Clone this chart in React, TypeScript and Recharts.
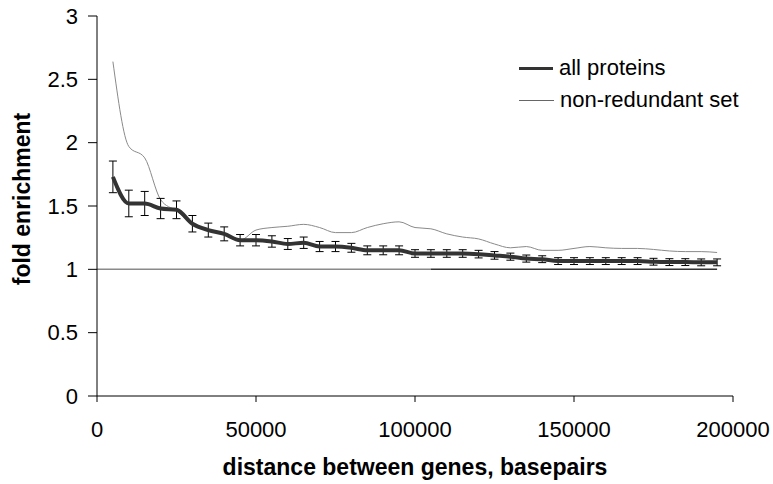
import React from 'react';
import { LineChart, Line, XAxis, YAxis, ErrorBar, ReferenceLine, Legend, Label } from 'recharts';

const distance = [
  5000, 10000, 15000, 20000, 25000, 30000, 35000, 40000, 45000, 50000,
  55000, 60000, 65000, 70000, 75000, 80000, 85000, 90000, 95000, 100000,
  105000, 110000, 115000, 120000, 125000, 130000, 135000, 140000, 145000, 150000,
  155000, 160000, 165000, 170000, 175000, 180000, 185000, 190000, 195000,
];

const allProteins = [
  1.73, 1.52, 1.52, 1.48, 1.47, 1.36, 1.31, 1.28, 1.23, 1.23,
  1.22, 1.2, 1.21, 1.18, 1.18, 1.17, 1.15, 1.15, 1.15, 1.125,
  1.125, 1.125, 1.125, 1.12, 1.11, 1.1, 1.085, 1.08, 1.065, 1.065,
  1.065, 1.065, 1.065, 1.065, 1.06, 1.057, 1.057, 1.055, 1.055,
];

const allProteinsErr = [
  0.125, 0.105, 0.095, 0.08, 0.07, 0.065, 0.055, 0.055, 0.045, 0.045,
  0.045, 0.043, 0.045, 0.04, 0.04, 0.035, 0.035, 0.035, 0.035, 0.03,
  0.03, 0.03, 0.03, 0.03, 0.03, 0.028, 0.028, 0.027, 0.027, 0.027,
  0.027, 0.027, 0.027, 0.027, 0.027, 0.027, 0.027, 0.027, 0.027,
];

const nonRedundant = [
  2.64, 1.97, 1.88, 1.55, 1.46, 1.36, 1.31, 1.28, 1.23, 1.31,
  1.33, 1.34, 1.355, 1.33, 1.29, 1.29, 1.33, 1.36, 1.375, 1.33,
  1.32, 1.28, 1.255, 1.24, 1.2, 1.17, 1.18, 1.15, 1.15, 1.165,
  1.18, 1.17, 1.165, 1.165, 1.157, 1.145, 1.14, 1.14, 1.133,
];

const xTicks = [0, 50000, 100000, 150000, 200000];
const yTicks = [0, 0.5, 1, 1.5, 2, 2.5, 3];

// baseline at fold enrichment 1, drawn in two shades like the original
const baselineLevel = 1;
const baselineGrey = [0, 105000];
const baselineDark = [105000, 195000];

const data = distance.map((d, i) => ({
  distance: d,
  all: allProteins[i],
  err: allProteinsErr[i],
  nonRed: nonRedundant[i],
}));

const FONT = '"Liberation Sans", Arial, sans-serif';

const ChartLegend = () => (
  <div style={{ fontFamily: FONT, fontSize: 22, color: '#000', lineHeight: '26px' }}>
    <div style={{ display: 'flex', alignItems: 'center', height: 26, marginBottom: 6 }}>
      <span style={{ display: 'inline-block', width: 34, height: 3, background: '#333', marginRight: 6 }} />
      <span>all proteins</span>
    </div>
    <div style={{ display: 'flex', alignItems: 'center', height: 26 }}>
      <span style={{ display: 'inline-block', width: 35, height: 1, background: '#666', marginRight: 6 }} />
      <span>non-redundant set</span>
    </div>
  </div>
);

const YTitle = ({ viewBox }: any) => {
  const x = 30;
  const y = viewBox.y + viewBox.height / 2 - 7;
  return (
    <text
      x={x}
      y={y}
      transform={`rotate(-90, ${x}, ${y})`}
      textAnchor="middle"
      fontFamily={FONT}
      fontSize={23}
      fontWeight="bold"
      fill="#000"
    >
      fold enrichment
    </text>
  );
};

export default function App() {
  const tickStyle = { fontFamily: FONT, fontSize: 22, fill: '#000' };
  return (
    <div style={{ position: 'absolute', top: 0, left: 0, width: 773, height: 484 }}>
      <LineChart width={773} height={484} data={data} margin={{ top: 16, right: 40, bottom: 9, left: 0 }}>
        <XAxis
          dataKey="distance"
          type="number"
          domain={[0, 200000]}
          ticks={xTicks}
          tick={tickStyle}
          tickSize={6}
          tickMargin={19}
          axisLine={{ stroke: '#000' }}
          tickLine={{ stroke: '#000' }}
          height={79}
        >
          <Label
            value="distance between genes, basepairs"
            position="insideBottom"
            offset={0}
            style={{ fontFamily: FONT, fontSize: 23, fontWeight: 'bold', fill: '#000' }}
          />
        </XAxis>
        <YAxis
          type="number"
          domain={[0, 3]}
          ticks={yTicks}
          tick={tickStyle}
          tickSize={9}
          tickMargin={10}
          axisLine={{ stroke: '#000' }}
          tickLine={{ stroke: '#000' }}
          width={97}
        >
          <Label content={<YTitle />} />
        </YAxis>
        <ReferenceLine
          segment={[
            { x: baselineGrey[0], y: baselineLevel },
            { x: baselineGrey[1], y: baselineLevel },
          ]}
          stroke="#8a8a8a"
          strokeWidth={1.5}
        />
        <ReferenceLine
          segment={[
            { x: baselineDark[0], y: baselineLevel },
            { x: baselineDark[1], y: baselineLevel },
          ]}
          stroke="#333"
          strokeWidth={1.5}
        />
        <Line
          dataKey="nonRed"
          name="non-redundant set"
          type="monotone"
          stroke="#8a8a8a"
          strokeWidth={1}
          dot={false}
          isAnimationActive={false}
        />
        <Line
          dataKey="all"
          name="all proteins"
          type="monotone"
          stroke="#333"
          strokeWidth={4}
          dot={false}
          isAnimationActive={false}
        >
          <ErrorBar dataKey="err" width={4} stroke="#000" strokeWidth={1} direction="y" />
        </Line>
        <Legend
          layout="horizontal"
          verticalAlign="middle"
          align="center"
          content={<ChartLegend />}
          wrapperStyle={{ top: 55, left: 519, width: 250, height: 60 }}
        />
      </LineChart>
    </div>
  );
}
